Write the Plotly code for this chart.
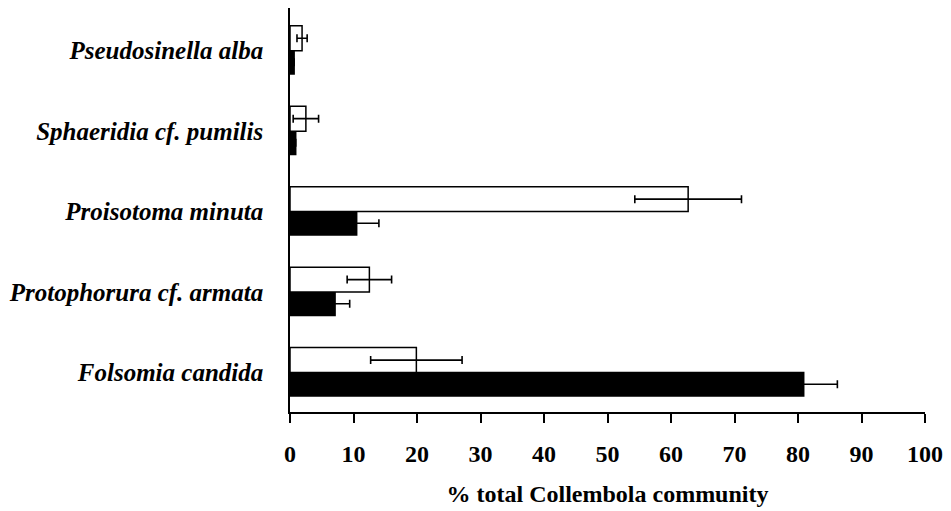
import plotly.graph_objects as go

categories = ["Folsomia candida", "Protophorura cf. armata", "Proisotoma minuta",
              "Sphaeridia cf. pumilis", "Pseudosinella alba"]
white_vals = [19.9, 12.5, 62.7, 2.5, 1.9]
white_err = [7.2, 3.5, 8.4, 2.0, 0.8]
black_vals = [80.9, 7.1, 10.5, 0.9, 0.65]
black_err = [5.3, 2.3, 3.5, None, None]
x_ticks = list(range(0, 101, 10))

ypos = list(range(len(categories)))

fig = go.Figure()
fig.add_trace(go.Bar(
    y=ypos, x=black_vals, orientation="h", width=0.29, offset=-0.29,
    marker=dict(color="black", line=dict(color="black", width=1.5)),
    error_x=dict(type="data", array=black_err, color="black", thickness=1.6, width=4),
    showlegend=False,
))
fig.add_trace(go.Bar(
    y=ypos, x=white_vals, orientation="h", width=0.31, offset=0,
    marker=dict(color="white", line=dict(color="black", width=1.5)),
    error_x=dict(type="data", array=white_err, color="black", thickness=1.6, width=4),
    showlegend=False,
))

fig.update_layout(
    barmode="overlay",
    width=951, height=511,
    margin=dict(l=290, r=26, t=8, b=96),
    plot_bgcolor="white", paper_bgcolor="white",
    font=dict(family="Liberation Serif", color="black"),
    xaxis=dict(
        range=[0, 100], tickvals=x_ticks, ticktext=[str(v) for v in x_ticks],
        ticks="outside", ticklen=9, tickwidth=1.5, tickcolor="black",
        showline=True, linecolor="black", linewidth=1.5,
        showgrid=False, zeroline=False, ticklabelstandoff=10,
        tickfont=dict(family="Liberation Serif", size=24, weight="bold"),
        title=dict(text="% total Collembola community", standoff=20,
                   font=dict(family="Liberation Serif", size=24, weight="bold")),
    ),
    yaxis=dict(
        range=[-0.49, 4.53], tickvals=ypos, ticktext=categories,
        ticks="", showline=True, linecolor="black", linewidth=1.5,
        showgrid=False, zeroline=False, ticklabelstandoff=20,
        tickfont=dict(family="Liberation Serif", size=25, weight="bold", style="italic"),
    ),
)

fig.write_html("out.html")
